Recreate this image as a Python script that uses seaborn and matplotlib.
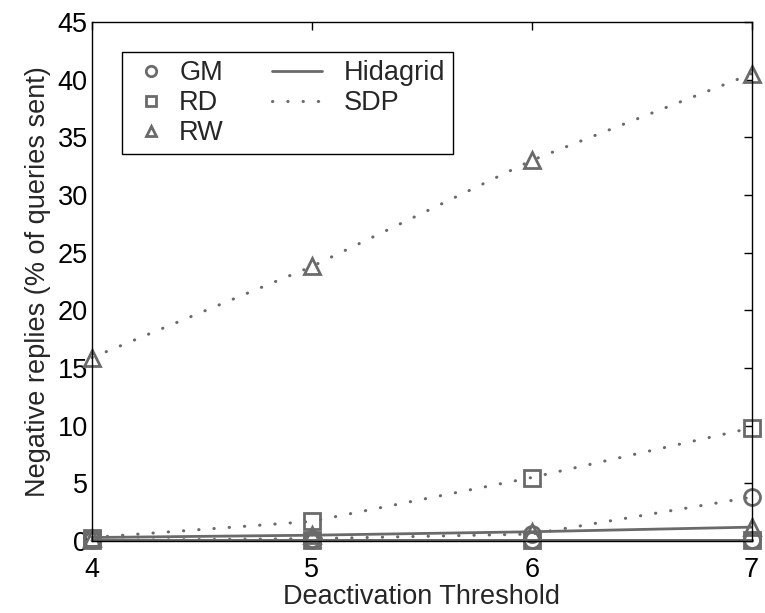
import matplotlib
matplotlib.use("Agg")
import matplotlib.pyplot as plt
import seaborn as sns
from matplotlib.lines import Line2D
from matplotlib.legend_handler import HandlerLine2D

# Deactivation threshold (x) and negative replies, % of queries sent (y)
thresholds = [4, 5, 6, 7]

sdp_gm = [0.05, 0.2, 0.6, 3.8]
sdp_rd = [0.3, 1.7, 5.5, 9.8]
sdp_rw = [15.9, 23.8, 33.0, 40.5]

hida_gm = [0.05, 0.05, 0.05, 0.05]
hida_rd = [0.1, 0.1, 0.1, 0.1]
hida_rw = [0.3, 0.5, 0.8, 1.2]

walks = ['GM', 'RD', 'RW']
schemes = ['Hidagrid', 'SDP']
walk_markers = {'GM': 'o', 'RD': 's', 'RW': '^'}

sns.set_style("white")
plt.rcParams['font.family'] = ['Liberation Sans', 'DejaVu Sans']

gray = '#6a6a6a'
dotted = (0, (0.1, 4.9))
fs = 19.5

fig = plt.figure(figsize=(7.65, 6.13), dpi=100)
ax = fig.add_axes([0.1203, 0.1175, 0.8621, 0.8467])

series = [
    ('SDP', 'GM', sdp_gm), ('SDP', 'RD', sdp_rd), ('SDP', 'RW', sdp_rw),
    ('Hidagrid', 'GM', hida_gm), ('Hidagrid', 'RD', hida_rd), ('Hidagrid', 'RW', hida_rw),
]
for scheme, walk, vals in series:
    if scheme == 'SDP':
        ls, lw = dotted, 2.2
    else:
        ls, lw = '-', 2.0
    sns.lineplot(x=thresholds, y=vals, ax=ax, color=gray, linestyle=ls,
                 linewidth=lw, marker=walk_markers[walk], markersize=11.5,
                 markerfacecolor='none', markeredgecolor=gray,
                 markeredgewidth=2.0, dash_capstyle='round', clip_on=False)

ax.set_xlim(4, 7)
ax.set_ylim(0, 45)
ax.set_xticks([4, 5, 6, 7])
ax.set_yticks(range(0, 46, 5))
ax.tick_params(direction='in', top=True, right=True, length=6, width=1,
               labelsize=fs, colors='black', pad=3)
ax.tick_params(axis='x', pad=11.5)
for s in ax.spines.values():
    s.set_color('black')
    s.set_linewidth(1)
ax.set_xlabel('Deactivation Threshold', fontsize=fs, labelpad=1)
ax.set_ylabel('Negative replies (% of queries sent)', fontsize=fs, labelpad=5)


class SpanHandler(HandlerLine2D):
    # draws the key between start and end (pixels from the left of the handle box)
    def __init__(self, start, end, **kw):
        super().__init__(**kw)
        self.start = start * 0.72
        self.end = end * 0.72

    def create_artists(self, legend, orig_handle, xdescent, ydescent,
                       width, height, fontsize, trans):
        return super().create_artists(legend, orig_handle, xdescent - self.start,
                                      ydescent, self.end - self.start, height,
                                      fontsize, trans)


marker_keys = [Line2D([], [], color=gray, linestyle='none', marker=walk_markers[w],
                      markersize=7.5, markerfacecolor='none', markeredgewidth=2.0)
               for w in walks]
line_keys = [Line2D([], [], color=gray, linestyle='-', linewidth=2.0),
             Line2D([], [], color=gray, linestyle=dotted, linewidth=2.2,
                    dash_capstyle='round')]
blank = Line2D([], [], linestyle='none')
handles = marker_keys + line_keys + [blank]
labels = walks + schemes + ['']
hmap = {h: SpanHandler(0, 42, numpoints=1) for h in marker_keys}
hmap.update({h: SpanHandler(-22, 28, numpoints=1) for h in line_keys})

leg = ax.legend(handles, labels, ncol=2, loc='upper left',
                bbox_to_anchor=(0.0455, 0.942), fontsize=fs, frameon=True,
                fancybox=False, edgecolor='black', framealpha=1,
                handlelength=1.81, handletextpad=0.0, columnspacing=2.6,
                labelspacing=0.15, borderpad=0.3, borderaxespad=0,
                handler_map=hmap)
leg.get_frame().set_linewidth(1)

fig.savefig('out.png', dpi=100)
